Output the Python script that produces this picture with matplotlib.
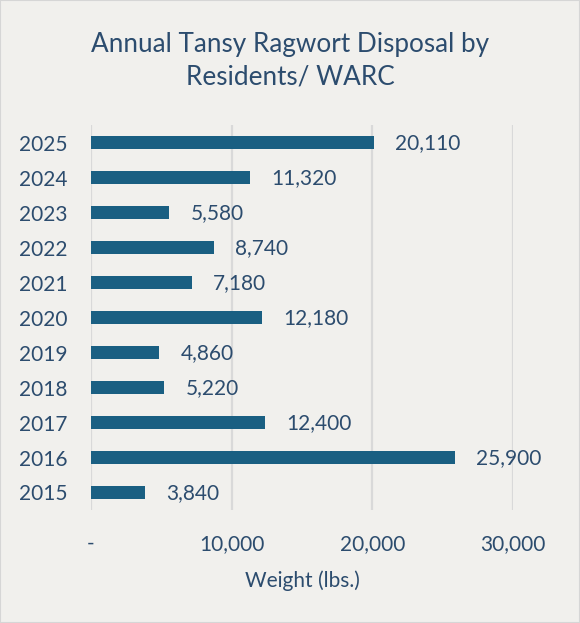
import matplotlib
matplotlib.use("Agg")
import matplotlib.pyplot as plt
from matplotlib.ticker import FuncFormatter

years = ["2015", "2016", "2017", "2018", "2019", "2020", "2021", "2022", "2023", "2024", "2025"]
weights = [3840, 25900, 12400, 5220, 4860, 12180, 7180, 8740, 5580, 11320, 20110]
xticks = [0, 10000, 20000, 30000]

bg = "#F1F0ED"
bar_color = "#1A5F82"
text_color = "#2C4C6E"
grid_color = "#D9D9D9"

plt.rcParams['font.family'] = ['Lato', 'DejaVu Sans']

fig = plt.figure(figsize=(5.8, 6.23), dpi=100, facecolor=bg)
fig.patches.append(plt.Rectangle((0, 0), 1, 1, transform=fig.transFigure,
                                 fill=False, edgecolor="#D6D6D6", linewidth=1.5))
ax = fig.add_axes([91/580, 1 - 510/623, (513-91)/580, (510-125)/623])
ax.set_facecolor(bg)

y = list(range(len(years)))
ax.barh(y, weights, height=0.36, color=bar_color, zorder=3)
for yi, w in zip(y, weights):
    ax.annotate(f"{w:,}", (w, yi), xytext=(21, -1), textcoords="offset pixels",
                va="center", ha="left", fontsize=15, color=text_color)

ax.set_xlim(0, 30000)
ax.set_ylim(-0.5, len(years) - 0.5)
ax.set_yticks(y)
ax.set_yticklabels(years)
ax.set_xticks(xticks)
ax.xaxis.set_major_formatter(FuncFormatter(lambda v, p: "-" if v == 0 else f"{int(v):,}"))
ax.tick_params(axis="both", length=0, labelsize=15, colors=text_color)
ax.tick_params(axis="y", pad=17)
ax.tick_params(axis="x", pad=17)
ax.grid(axis="x", color=grid_color, linewidth=1.6, zorder=0)
for s in ax.spines.values():
    s.set_visible(False)

ax.set_xlabel("Weight (lbs.)", fontsize=15, color=text_color, labelpad=12)
fig.text(0.5, 1 - 61/623, "Annual Tansy Ragwort Disposal by\nResidents/ WARC", ha="center", va="center",
         fontsize=18.8, color=text_color, linespacing=1.4)

fig.savefig("out.png", dpi=100, facecolor=bg)
